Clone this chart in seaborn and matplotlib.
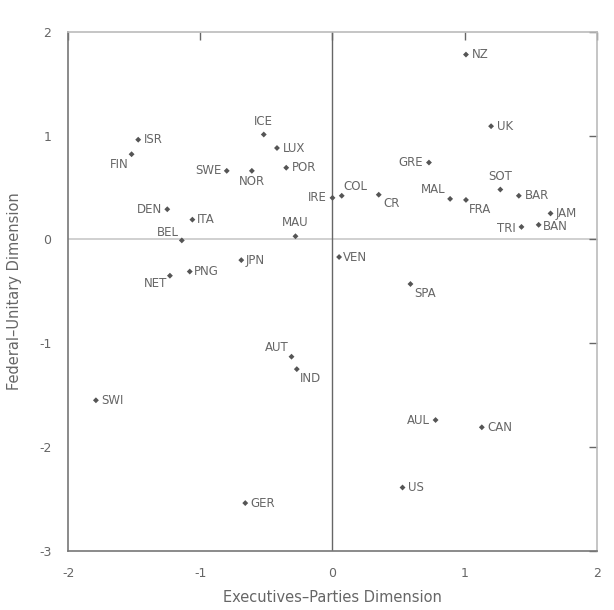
import matplotlib
matplotlib.use("Agg")
import matplotlib.pyplot as plt
import seaborn as sns
import pandas as pd

countries = ["NZ", "UK", "ISR", "FIN", "ICE", "LUX", "SWE", "NOR", "POR", "GRE",
             "SOT", "BAR", "COL", "IRE", "CR", "MAL", "FRA", "JAM", "TRI", "BAN",
             "DEN", "ITA", "BEL", "MAU", "VEN", "JPN", "PNG", "NET", "SPA", "AUT",
             "IND", "SWI", "AUL", "CAN", "US", "GER"]
exec_parties = [1.01, 1.20, -1.47, -1.52, -0.52, -0.42, -0.80, -0.61, -0.35, 0.73,
                1.27, 1.41, 0.07, 0.00, 0.35, 0.89, 1.01, 1.65, 1.43, 1.56,
                -1.25, -1.06, -1.14, -0.28, 0.05, -0.69, -1.08, -1.23, 0.59, -0.31,
                -0.27, -1.79, 0.78, 1.13, 0.53, -0.66]
federal_unitary = [1.78, 1.09, 0.96, 0.82, 1.01, 0.88, 0.66, 0.66, 0.69, 0.74,
                   0.48, 0.42, 0.42, 0.40, 0.43, 0.39, 0.38, 0.25, 0.12, 0.14,
                   0.29, 0.19, -0.01, 0.03, -0.17, -0.20, -0.31, -0.35, -0.43, -1.13,
                   -1.25, -1.55, -1.74, -1.81, -2.39, -2.54]
x_ticks = [-2, -1, 0, 1, 2]
y_ticks = [-3, -2, -1, 0, 1, 2]

# label placement: (dx, dy in points, ha, va)
placement = {
    "NZ": (4, 0, "left", "center"), "UK": (4, 0, "left", "center"),
    "ISR": (4, 0, "left", "center"), "FIN": (-2, -3, "right", "top"),
    "ICE": (0, 5, "center", "bottom"), "LUX": (4, 0, "left", "center"),
    "SWE": (-4, 0, "right", "center"), "NOR": (0, -3, "center", "top"),
    "POR": (4, 0, "left", "center"), "GRE": (-4, 0, "right", "center"),
    "SOT": (0, 5, "center", "bottom"), "BAR": (4, 0, "left", "center"),
    "COL": (1, 2, "left", "bottom"), "IRE": (-4, 0, "right", "center"),
    "CR": (3, -2, "left", "top"), "MAL": (-3, 2, "right", "bottom"),
    "FRA": (2, -2, "left", "top"), "JAM": (4, 0, "left", "center"),
    "TRI": (-4, -1, "right", "center"), "BAN": (3, -1, "left", "center"),
    "DEN": (-4, 0, "right", "center"), "ITA": (3, 0, "left", "center"),
    "BEL": (-2, 1, "right", "bottom"), "MAU": (0, 5, "center", "bottom"),
    "VEN": (3, 0, "left", "center"), "JPN": (3, 0, "left", "center"),
    "PNG": (3, 0, "left", "center"), "NET": (-2, -1, "right", "top"),
    "SPA": (3, -2, "left", "top"), "AUT": (-2, 2, "right", "bottom"),
    "IND": (2, -2, "left", "top"), "SWI": (4, 0, "left", "center"),
    "AUL": (-4, 0, "right", "center"), "CAN": (4, 0, "left", "center"),
    "US": (4, 0, "left", "center"), "GER": (4, 0, "left", "center"),
}

df = pd.DataFrame({"country": countries, "x": exec_parties, "y": federal_unitary})

sns.set_theme(style="white")
plt.rcParams["font.family"] = ["DejaVu Sans"]

fig = plt.figure(figsize=(6.14, 6.10), dpi=100)
ax = fig.add_axes([0.111, 0.097, 0.861, 0.851])

ax.axhline(0, color="#c8c8c8", lw=1.2, zorder=0)
ax.axvline(0, color="#666666", lw=1.0, zorder=0)

sns.scatterplot(data=df, x="x", y="y", ax=ax, color="#555555", s=9,
                marker="D", edgecolor="none", legend=False)

for c, xv, yv in zip(countries, exec_parties, federal_unitary):
    dx, dy, ha, va = placement[c]
    ax.annotate(c, (xv, yv), xytext=(dx, dy), textcoords="offset points",
                ha=ha, va=va, fontsize=8.5, color="#666666")

ax.set_xlim(-2, 2)
ax.set_ylim(-3, 2)
ax.set_xticks(x_ticks)
ax.set_yticks(y_ticks)
ax.set_xticklabels([str(t) for t in x_ticks])
ax.set_yticklabels([str(t) for t in y_ticks])
ax.tick_params(direction="in", length=6, width=1, colors="#666666",
               labelsize=9, top=True, right=True, labelcolor="#666666", pad=12)
for side, sp in ax.spines.items():
    sp.set_color("#777777" if side in ("left", "bottom") else "#bbbbbb")
    sp.set_linewidth(1.2)

ax.set_xlabel("Executives–Parties Dimension", fontsize=10.5, color="#666666", labelpad=7)
ax.set_ylabel("Federal–Unitary Dimension", fontsize=10.5, color="#666666", labelpad=12)

fig.savefig("out.png", dpi=100)
